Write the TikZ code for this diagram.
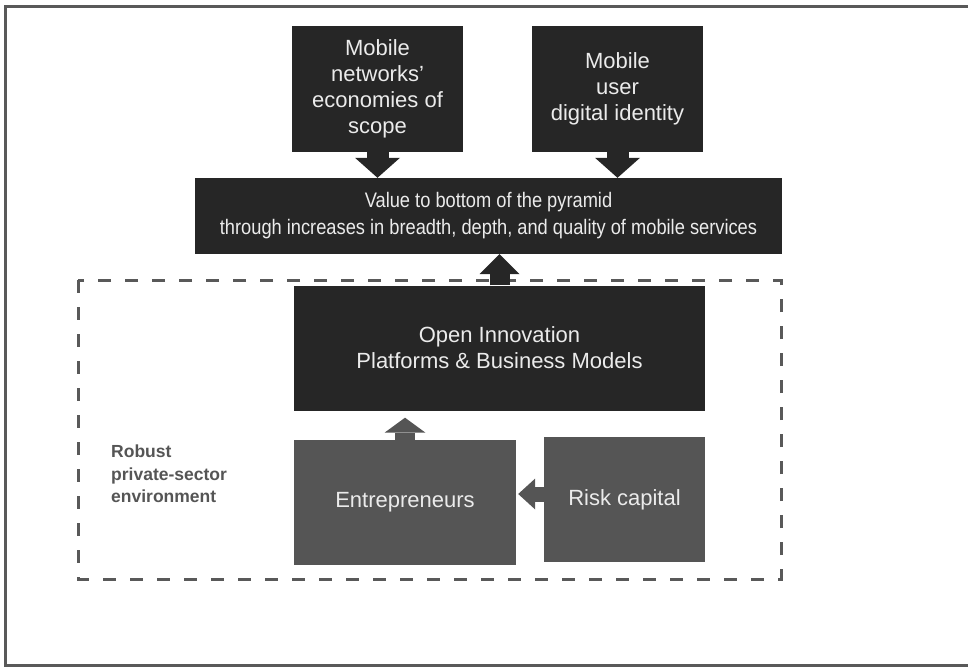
\documentclass[tikz,border=0pt]{standalone}
\usepackage{fontspec}
\setmainfont{Liberation Sans}
\newfontfamily\condfont[FakeStretch=0.87]{Liberation Sans}
\usepackage{xcolor}
\usepackage{tikz}
\usetikzlibrary{arrows.meta, positioning, calc}

\definecolor{boxdark}{HTML}{262626}
\definecolor{boxgrey}{HTML}{555555}
\definecolor{linegrey}{HTML}{595959}
\definecolor{boxtext}{HTML}{EBEBEB}

\begin{document}
\begin{tikzpicture}[x=1pt, y=-1pt,
    darkbox/.style={fill=boxdark, text=boxtext, align=center, inner sep=0pt,
        font=\fontsize{22}{26}\selectfont},
    greybox/.style={fill=boxgrey, text=boxtext, align=center, inner sep=0pt,
        font=\fontsize{22}{26}\selectfont},
    blockarrow/.style={draw=boxdark, line width=#1}]
    \useasboundingbox (0,0) rectangle (968,668);
    % outer frame, runs off the right edge
    \draw[linegrey, line width=3pt] (5,7) rectangle (985,665);
    % top inputs
    \node[darkbox, minimum width=171pt, minimum height=126pt] (scope) at (377.5,89)
        {Mobile\\networks'\\economies of\\scope};
    \node[darkbox, minimum width=171pt, minimum height=126pt] (ident) at (617.5,89)
        {Mobile\\user\\digital identity};
    \node[darkbox, minimum width=587pt, minimum height=76pt, font=\condfont\fontsize{21}{27}\selectfont] (value) at (488.5,216)
        {Value to bottom of the pyramid\\through increases in breadth, depth, and quality of mobile services};
    % private-sector environment
    \draw[linegrey, line width=3pt, dash pattern=on 13pt off 14pt] (78,280) rectangle (781,579);
    \node[darkbox, minimum width=411pt, minimum height=125pt] (open) at (499.5,348)
        {Open Innovation\\Platforms \& Business Models};
    \node[greybox, minimum width=222pt, minimum height=125pt] (entre) at (405,502.5)
        {Entrepreneurs};
    \node[greybox, minimum width=161pt, minimum height=125pt] (risk) at (624.5,499.5)
        {Risk capital};
    \node[anchor=north west, align=left, text=boxgrey, inner sep=0pt,
        font=\bfseries\fontsize{17.5}{22.5}\selectfont] (robust) at (111,445)
        {Robust\\private-sector\\environment};
    % block arrows
    \draw[blockarrow=22pt, -{Triangle[width=45pt, length=20pt, line width=0pt]}]
        (scope.south) -- (scope.south |- value.north);
    \draw[blockarrow=22pt, -{Triangle[width=45pt, length=20pt, line width=0pt]}]
        (ident.south) -- (ident.south |- value.north);
    \draw[blockarrow=20pt, -{Triangle[width=40pt, length=20pt, line width=0pt]}]
        (open.north) -- (open.north |- value.south);
    \draw[blockarrow=20pt, draw=boxgrey, shorten >=7pt, -{Triangle[width=41pt, length=15pt, line width=0pt]}]
        (entre.north) -- (entre.north |- open.south);
    \draw[blockarrow=15pt, draw=boxgrey, shorten >=2pt, -{Triangle[width=31pt, length=17pt, line width=0pt]}]
        ([yshift=5.5pt]risk.west) -- ([yshift=5.5pt]risk.west -| entre.east);
\end{tikzpicture}
\end{document}
